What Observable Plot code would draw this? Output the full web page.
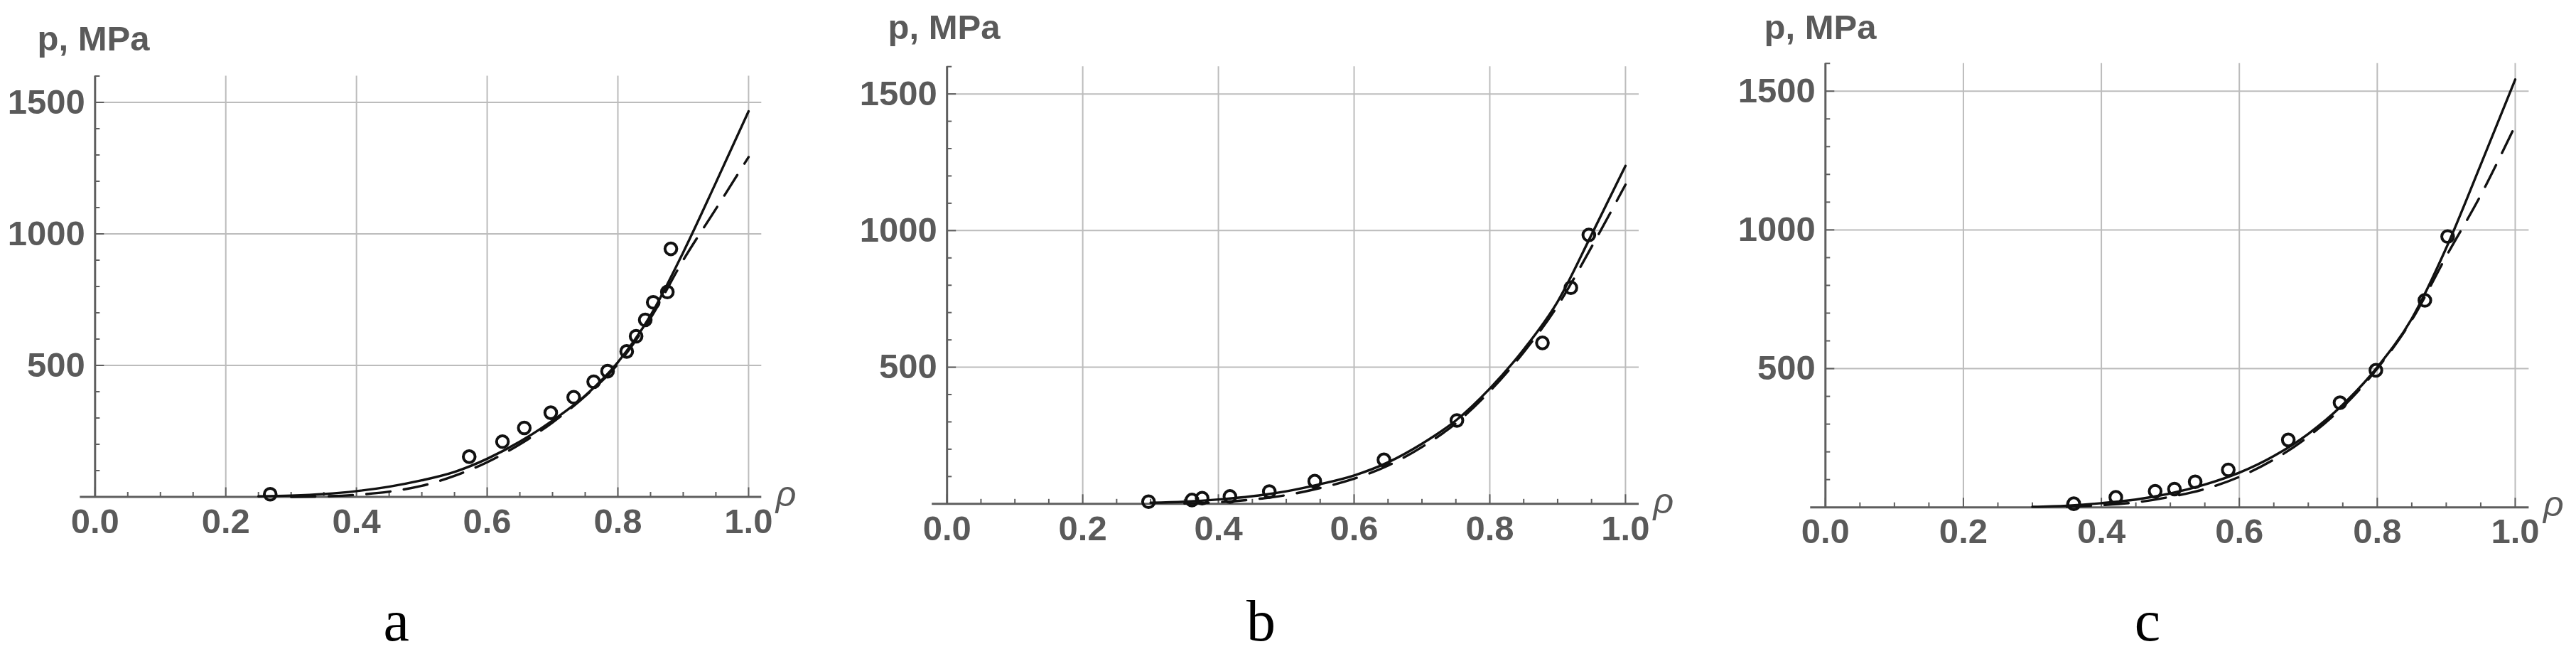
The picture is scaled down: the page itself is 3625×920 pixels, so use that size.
<!DOCTYPE html>
<html>
<head>
<meta charset="utf-8">
<script src="https://cdn.jsdelivr.net/npm/d3@7"></script>
<script src="https://cdn.jsdelivr.net/npm/@observablehq/plot@0.6"></script>
<style>
html,body{margin:0;padding:0;background:#fff;}
#wrap{position:relative;width:3625px;height:920px;overflow:hidden;background:#fff;}
#wrap svg{position:absolute;top:0;}
</style>
</head>
<body>
<div id="wrap"></div>
<script>
// ---- tick & grid values ----
const xMajorTicks = [0, 0.2, 0.4, 0.6, 0.8, 1.0];
const xMinorTicks = [0.05, 0.1, 0.15, 0.25, 0.3, 0.35, 0.45, 0.5, 0.55, 0.65, 0.7, 0.75, 0.85, 0.9, 0.95];
const yMajorTicks = [500, 1000, 1500];
const yMinorTicks = [100, 200, 300, 400, 600, 700, 800, 900, 1100, 1200, 1300, 1400, 1600];
const xGrid = [0.2, 0.4, 0.6, 0.8, 1.0];
const yGrid = [500, 1000, 1500];
const yTitle = "p, MPa";
const xTitle = "ρ";
const panelLetters = ["a", "b", "c"];

// ---- curve sample abscissae ----
const rhoCurve = [0.25, 0.3, 0.35, 0.4, 0.45, 0.5, 0.55, 0.6, 0.65, 0.7, 0.75, 0.8, 0.85, 0.9, 0.95, 1.0];

// ---- panel a ----
const aSolid  = [2, 5, 11, 22, 39, 63, 95, 145, 210, 290, 385, 512, 690, 930, 1195, 1466];
const aDashed = [null, 0, 2, 8, 20, 42, 80, 132, 200, 283, 383, 505, 680, 900, 1095, 1292];
const aRho = [0.268, 0.5725, 0.6234, 0.6568, 0.6973, 0.7324, 0.763, 0.7842, 0.8135, 0.8279, 0.8419, 0.8541, 0.8757, 0.8811];
const aP   = [10, 153, 210, 262, 320, 379, 438, 478, 553, 611, 673, 740, 779, 943];

// ---- panel b ----
const bSolid  = [null, 4, 8, 16, 28, 46, 72, 104, 152, 220, 305, 422, 565, 740, 985, 1237];
const bDashed = [null, null, 1, 6, 16, 32, 58, 92, 140, 208, 295, 412, 555, 725, 940, 1168];
const bRho = [0.297, 0.361, 0.376, 0.417, 0.475, 0.542, 0.644, 0.7515, 0.8776, 0.9195, 0.946];
const bP   = [8, 14, 21, 27, 45, 83, 161, 305, 589, 791, 984];

// ---- panel c ----
const cSolid  = [null, 2, 6, 15, 28, 50, 82, 125, 185, 265, 370, 505, 680, 935, 1235, 1542];
const cDashed = [null, null, 2, 8, 18, 38, 66, 110, 172, 255, 362, 500, 675, 905, 1125, 1376];
const cRho = [0.36, 0.421, 0.478, 0.506, 0.536, 0.584, 0.671, 0.746, 0.798, 0.869, 0.902];
const cP   = [13, 36, 58, 66, 92, 135, 243, 377, 494, 746, 976];

// ---- layout (pixel geometry per panel) ----
const H = 920;
const layouts = [
  {left: 0,    width: 1200, ml: 133.3, mr: 128.7, mt: 106.5, mb: 221.5, titleDx: -81.3, titleDy: -70.3, capDx: -45, capDy: 143.3},
  {left: 1200, width: 1200, ml: 132.2, mr: 94.0,  mt: 93.2,  mb: 211.7, titleDx: -83.2, titleDy: -73.0, capDx: -45, capDy: 133.5},
  {left: 2400, width: 1225, ml: 168.3, mr: 66.6,  mt: 88.7,  mb: 206.8, titleDx: -86.3, titleDy: -68.5, capDx: -42, capDy: 128.6}
];

const panels = [
  {solid: aSolid, dashed: aDashed, rho: aRho, p: aP},
  {solid: bSolid, dashed: bDashed, rho: bRho, p: bP},
  {solid: cSolid, dashed: cDashed, rho: cRho, p: cP}
];

const axisColor = "#5e5e5e";
const textColor = "#5a5a5a";
const gridColor = "#bcbcbc";
const sansFont = "'Liberation Sans', Arial, Helvetica, sans-serif";

const wrap = document.getElementById("wrap");

panels.forEach((pd, i) => {
  const L = layouts[i];
  const fw = L.width - L.ml - L.mr;
  const fh = H - L.mt - L.mb;
  const solidData = rhoCurve.map((r, k) => ({rho: r, p: pd.solid[k]}));
  const dashedData = rhoCurve.map((r, k) => ({rho: r, p: pd.dashed[k]}));
  const pointData = pd.rho.map((r, k) => ({rho: r, p: pd.p[k]}));

  const chart = Plot.plot({
    width: L.width,
    height: H,
    marginLeft: L.ml,
    marginRight: L.mr,
    marginTop: L.mt,
    marginBottom: L.mb,
    style: {background: "transparent", fontFamily: sansFont, overflow: "visible"},
    x: {domain: [0, 1.02], label: null},
    y: {domain: [0, 1600], label: null},
    marks: [
      Plot.ruleX(xGrid, {stroke: gridColor, strokeWidth: 2}),
      Plot.ruleY(yGrid, {stroke: gridColor, strokeWidth: 2}),
      Plot.ruleX([0], {stroke: axisColor, strokeWidth: 3}),
      Plot.ruleY([0], {stroke: axisColor, strokeWidth: 3, insetLeft: -21}),
      Plot.ruleX(xMinorTicks, {stroke: axisColor, strokeWidth: 2, insetTop: fh - 6.5}),
      Plot.ruleX(xMajorTicks, {stroke: axisColor, strokeWidth: 2, insetTop: fh - 13}),
      Plot.ruleY(yMinorTicks, {stroke: axisColor, strokeWidth: 2, insetRight: fw - 7}),
      Plot.ruleY(yMajorTicks, {stroke: axisColor, strokeWidth: 2, insetRight: fw - 13}),
      Plot.axisX({ticks: xMajorTicks, tickSize: 0, tickPadding: 16, tickFormat: d3.format(".1f"),
        fontSize: 49, fontWeight: "bold", color: textColor, label: null}),
      Plot.axisY({ticks: yMajorTicks, tickSize: 0, tickPadding: 14, tickFormat: d => String(d),
        fontSize: 49, fontWeight: "bold", color: textColor, label: null}),
      Plot.line(dashedData, {x: "rho", y: "p", curve: "monotone-x", stroke: "#111", strokeWidth: 3.4,
        strokeDasharray: "34,19"}),
      Plot.line(solidData, {x: "rho", y: "p", curve: "monotone-x", stroke: "#111", strokeWidth: 3.4}),
      Plot.dot(pointData, {x: "rho", y: "p", r: 8.3, stroke: "#111", strokeWidth: 4, fill: "none"}),
      Plot.text([yTitle], {frameAnchor: "top-left", textAnchor: "start", lineAnchor: "top",
        dx: L.titleDx, dy: L.titleDy, fontSize: 49, fontWeight: "bold", fill: textColor}),
      Plot.text([xTitle], {frameAnchor: "bottom-right", textAnchor: "start", lineAnchor: "top",
        dx: 20, dy: -22.8, fontSize: 50, fontStyle: "italic", fill: textColor}),
      Plot.text([panelLetters[i]], {frameAnchor: "bottom", textAnchor: "middle", lineAnchor: "top",
        dx: L.capDx, dy: L.capDy, fontSize: 82, fontFamily: "'Liberation Serif', 'Times New Roman', serif", fill: "#000"})
    ]
  });
  chart.style.left = L.left + "px";
  wrap.appendChild(chart);
});
</script>
</body>
</html>
